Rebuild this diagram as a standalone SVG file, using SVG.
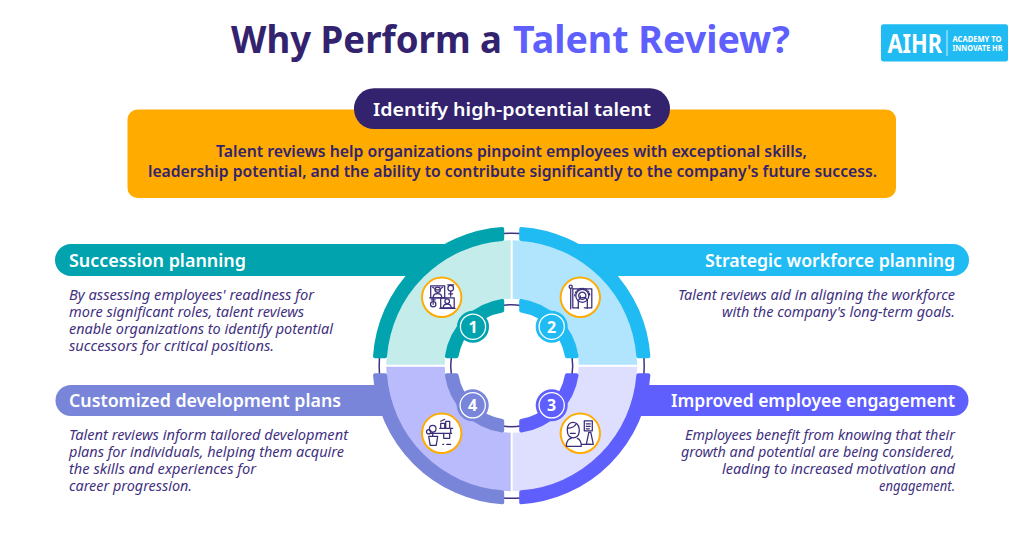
<svg xmlns="http://www.w3.org/2000/svg" width="1024" height="535" viewBox="0 0 1024 535">
<style>
text{font-family:"Noto Sans","Liberation Sans",sans-serif}
.title{font-size:37.5px;font-weight:700;fill:#33236e}
.head{font-size:18px;font-weight:600;fill:#fff}
.lead{font-size:15.5px;font-weight:600;fill:#33236e}
.body{font-size:13.5px;font-style:italic;font-weight:400;fill:#3f3180}
.num{font-size:16px;font-weight:700;fill:#fff;text-anchor:middle}
.end{text-anchor:end}
.mid{text-anchor:middle}
.halo{fill:#fff;stroke:#ffab00;stroke-width:2}
.ic{fill:none;stroke:#3a2c78;stroke-width:1.25;stroke-linecap:round;stroke-linejoin:round}
.ring{stroke-width:4;stroke-linejoin:round}
.thin{fill:none;stroke:#3f3180;stroke-width:1.5}
.badge{fill:none;stroke:#fff;stroke-width:1.3}
</style>
<defs>
<path id="outer" d="M-136.67 -9.5A137 137 0 0 1 -9.5 -136.67L-9.5 -126.64A127 127 0 0 0 -126.64 -9.5Z"/>
<path id="inner" d="M-64.81 -9.5A65.5 65.5 0 0 1 -9.5 -64.81L-9.5 -55.19A56 56 0 0 0 -55.19 -9.5Z"/>
<path id="quad" d="M-125.5 -1A125.5 125.5 0 0 1 -1 -125.5L-1 -67A67 67 0 0 0 -67 -1Z"/>
</defs>
<rect width="1024" height="535" fill="#fff"/>

<g id="title">
<text class="title" x="231" y="52.7" textLength="271" lengthAdjust="spacingAndGlyphs">Why Perform a</text>
<text class="title" x="513" y="52.7" textLength="277" lengthAdjust="spacingAndGlyphs" style="fill:#5f5ffe">Talent Review?</text>
</g>

<g id="logo">
<rect x="881" y="24.3" width="127" height="37.2" rx="2.5" fill="#1fbbf2"/>
<text x="887.5" y="52.5" font-size="26" font-weight="700" fill="#fff" textLength="54.5" lengthAdjust="spacingAndGlyphs">AIHR</text>
<path d="M947 30V56" stroke="#fff" stroke-width="0.8"/>
<text x="952.5" y="41.5" font-size="8.3" font-weight="700" fill="#fff" textLength="49" lengthAdjust="spacingAndGlyphs">ACADEMY TO</text>
<text x="952.5" y="50.5" font-size="8.3" font-weight="700" fill="#fff" textLength="50" lengthAdjust="spacingAndGlyphs">INNOVATE HR</text>
</g>

<g id="top-card">
<rect x="127.5" y="109.5" width="768.5" height="88.5" rx="10" fill="#ffab00"/>
<rect x="354" y="88.3" width="316" height="40.7" rx="20" fill="#33236e"/>
<text class="head mid" x="512" y="116" textLength="278" lengthAdjust="spacingAndGlyphs">Identify high-potential talent</text>
<text class="lead mid" x="511.5" y="157" textLength="591" lengthAdjust="spacingAndGlyphs">Talent reviews help organizations pinpoint employees with exceptional skills,</text>
<text class="lead mid" x="512.5" y="177" textLength="729" lengthAdjust="spacingAndGlyphs">leadership potential, and the ability to contribute significantly to the company's future success.</text>
</g>

<g id="connectors" transform="translate(511.7 365.7)">
<g class="thin">
<path d="M-9 -132.2A132.5 132.5 0 0 1 9 -132.2"/><path d="M-9 -60.3A61 61 0 0 1 9 -60.3"/>
<path transform="rotate(90)" d="M-9 -132.2A132.5 132.5 0 0 1 9 -132.2"/><path transform="rotate(90)" d="M-9 -60.3A61 61 0 0 1 9 -60.3"/>
<path transform="rotate(180)" d="M-9 -132.2A132.5 132.5 0 0 1 9 -132.2"/><path transform="rotate(180)" d="M-9 -60.3A61 61 0 0 1 9 -60.3"/>
<path transform="rotate(270)" d="M-9 -132.2A132.5 132.5 0 0 1 9 -132.2"/><path transform="rotate(270)" d="M-9 -60.3A61 61 0 0 1 9 -60.3"/>
</g>
</g>

<g id="node-1">
<path d="M446 244H71A16 16 0 0 0 71 276H446Z" fill="#00a3ae"/>
<g transform="translate(511.7 365.7)">
<use href="#quad" fill="#c4ecea"/>
<use href="#outer" class="ring" fill="#00a3ae" stroke="#00a3ae"/>
<use href="#inner" class="ring" fill="#00a3ae" stroke="#00a3ae"/>
</g>
<text class="head" x="69" y="267" textLength="177" lengthAdjust="spacingAndGlyphs">Succession planning</text>
<text class="body" x="69" y="299.5" textLength="245" lengthAdjust="spacingAndGlyphs">By assessing employees' readiness for</text>
<text class="body" x="69" y="316.5" textLength="235" lengthAdjust="spacingAndGlyphs">more significant roles, talent reviews</text>
<text class="body" x="69" y="333.7" textLength="264" lengthAdjust="spacingAndGlyphs">enable organizations to identify potential</text>
<text class="body" x="69" y="350.7" textLength="205" lengthAdjust="spacingAndGlyphs">successors for critical positions.</text>
<circle cx="441.7" cy="297.3" r="19.7" class="halo"/>
<g class="ic" transform="translate(441.7 297.3)">
<rect x="-11" y="-11.5" width="14" height="12"/><circle cx="-4" cy="-7.5" r="2.6"/><path d="M-6.8 -7.5H-1.2M-8.5 0C-8.5 -5 0 -5 0 0M-12 0.5H4M-9 -10L-7.5 -9M1 -10L-0.5 -9"/>
<rect x="-1" y="0.5" width="13.5" height="10"/><circle cx="5.5" cy="4" r="2.3"/><path d="M1.5 10.5C1.5 5.5 9.5 5.5 9.5 10.5M-2 11H13.5"/>
<circle cx="9" cy="-9" r="2.8"/><path d="M9 -6V-1M7 -3.5H11M6 -12.5L12 -12.5"/>
<circle cx="-8.5" cy="7" r="2.7"/><path d="M-8.5 1V4.3M-10.5 2.5H-6.5M-8.5 7V5.5"/>
</g>
<circle cx="473" cy="326.7" r="16" fill="#00a3ae"/><circle cx="473" cy="326.7" r="12.6" class="badge"/>
<text class="num" x="473" y="332.5">1</text>
</g>

<g id="node-2">
<path d="M577 244H953A16 16 0 0 1 953 276H577Z" fill="#1fbbf2"/>
<g transform="translate(511.7 365.7) scale(-1 1)">
<use href="#quad" fill="#b0e5fd"/>
<use href="#outer" class="ring" fill="#1fbbf2" stroke="#1fbbf2"/>
<use href="#inner" class="ring" fill="#1fbbf2" stroke="#1fbbf2"/>
</g>
<text class="head end" x="955" y="267" textLength="250" lengthAdjust="spacingAndGlyphs">Strategic workforce planning</text>
<text class="body end" x="955" y="299.5" textLength="277" lengthAdjust="spacingAndGlyphs">Talent reviews aid in aligning the workforce</text>
<text class="body end" x="955" y="316.5" textLength="233" lengthAdjust="spacingAndGlyphs">with the company's long-term goals.</text>
<circle cx="580.3" cy="297.3" r="19.7" class="halo"/>
<g class="ic" transform="translate(580.3 297.3)">
<circle cx="-9.6" cy="-10.5" r="1.6"/><path d="M-9.6 -9V11.5M-7.5 -9V10.5M-7.5 -8.5H11.5V10.5H4M-7.5 10.5H-2"/>
<circle cx="2" cy="-1.5" r="6.5"/><circle cx="2" cy="-1.5" r="3.6"/><path stroke-dasharray="1.5 1.5" d="M-5.5 -1.5A7.5 7.5 0 0 1 9.5 -1.5"/>
<path d="M-2 11V3L0 0.5V-1.5M0 0.5L5 0L7 3V11"/>
</g>
<circle cx="551.7" cy="326.7" r="16" fill="#1fbbf2"/><circle cx="551.7" cy="326.7" r="12.6" class="badge"/>
<text class="num" x="551.7" y="332.5">2</text>
</g>

<g id="node-3">
<path d="M627 385H953A15.5 15.5 0 0 1 953 416H627Z" fill="#5f5ffe"/>
<g transform="translate(511.7 365.7) scale(-1 -1)">
<use href="#quad" fill="#dedefe"/>
<use href="#outer" class="ring" fill="#5f5ffe" stroke="#5f5ffe"/>
<use href="#inner" class="ring" fill="#5f5ffe" stroke="#5f5ffe"/>
</g>
<text class="head end" x="955" y="407" textLength="284" lengthAdjust="spacingAndGlyphs">Improved employee engagement</text>
<text class="body end" x="955" y="439.5" textLength="270" lengthAdjust="spacingAndGlyphs">Employees benefit from knowing that their</text>
<text class="body end" x="955" y="456.5" textLength="274" lengthAdjust="spacingAndGlyphs">growth and potential are being considered,</text>
<text class="body end" x="955" y="473.7" textLength="233" lengthAdjust="spacingAndGlyphs">leading to increased motivation and</text>
<text class="body end" x="955" y="490.7" textLength="76" lengthAdjust="spacingAndGlyphs">engagement.</text>
<circle cx="580.3" cy="433.3" r="19.7" class="halo"/>
<g class="ic" transform="translate(580.3 433.3)">
<path d="M-13 -3C-14 -13 -2 -14 -1 -4C-1 -1 -1 1 -3 3C-5 5 -9 5 -11 3C-13 1 -13 -1 -13 -3ZM-13 -5C-9 -5 -5 -7 -4 -10M-10 0H-5"/>
<path d="M-14 13C-14 7 -11 5 -9 5M-3 5C0 6 1 9 1 13H-14M1 11H10"/>
<rect x="4" y="-12.5" width="8" height="10"/><path d="M6 -9.5H10M6 -7H10M6 -4.5H9"/>
<path d="M8.5 -1L6 11H13L10.5 -1Z"/>
</g>
<circle cx="551.7" cy="405.3" r="16" fill="#5f5ffe"/><circle cx="551.7" cy="405.3" r="12.6" class="badge"/>
<text class="num" x="551.7" y="411">3</text>
</g>

<g id="node-4">
<path d="M396 385H71A15.5 15.5 0 0 0 71 416H396Z" fill="#7885d9"/>
<g transform="translate(511.7 365.7) scale(1 -1)">
<use href="#quad" fill="#babbfc"/>
<use href="#outer" class="ring" fill="#7885d9" stroke="#7885d9"/>
<use href="#inner" class="ring" fill="#7885d9" stroke="#7885d9"/>
</g>
<text class="head" x="69" y="407" textLength="272" lengthAdjust="spacingAndGlyphs">Customized development plans</text>
<text class="body" x="69" y="439.5" textLength="279" lengthAdjust="spacingAndGlyphs">Talent reviews inform tailored development</text>
<text class="body" x="69" y="456.5" textLength="275" lengthAdjust="spacingAndGlyphs">plans for individuals, helping them acquire</text>
<text class="body" x="69" y="473.7" textLength="187" lengthAdjust="spacingAndGlyphs">the skills and experiences for</text>
<text class="body" x="69" y="490.7" textLength="123" lengthAdjust="spacingAndGlyphs">career progression.</text>
<circle cx="441.7" cy="433.3" r="19.7" class="halo"/>
<g class="ic" transform="translate(441.7 433.3)">
<circle cx="-9" cy="-4.5" r="3.3"/><circle cx="-13" cy="-1.5" r="2.2"/>
<path d="M-12 0H10M-9 -1V3M-13 3H-4L-5.5 12H-11.5Z"/>
<path d="M-1 -5V-10H3V-5ZM4 -5V-12H8V-5ZM-2 -5H11M9 -5V0M-1 -12L3 -14"/>
<path d="M2 0V5H8V0M1 11H2M5 11H9"/>
</g>
<circle cx="472.7" cy="405.3" r="16" fill="#7885d9"/><circle cx="472.7" cy="405.3" r="12.6" class="badge"/>
<text class="num" x="472.7" y="411">4</text>
</g>
</svg>
